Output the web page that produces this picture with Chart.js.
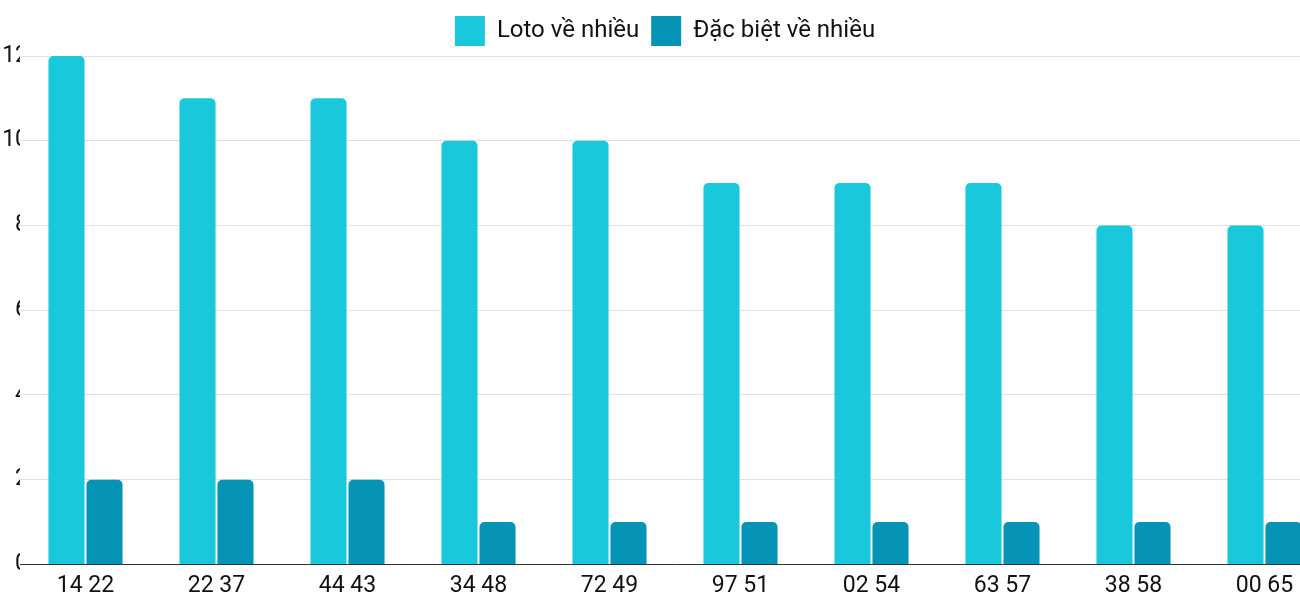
<!DOCTYPE html>
<html><head><meta charset="utf-8">
<script src="https://cdn.jsdelivr.net/npm/chart.js@4"></script>
<style>html,body{margin:0;padding:0;background:#fff;overflow:hidden}#w{width:1330px;height:600px}</style>
</head><body><div id="w"><canvas id="c"></canvas></div>
<script>
const categories = ["14 22","22 37","44 43","34 48","72 49","97 51","02 54","63 57","38 58","00 65"];
const lotoValues = [12,11,11,10,10,9,9,9,8,8];
const dbValues = [2,2,2,1,1,1,1,1,1,1];
const yTicks = [0,2,4,6,8,10,12];
new Chart(document.getElementById('c'), {
  type: 'bar',
  data: { labels: categories, datasets: [
    { label: 'Loto về nhiều', data: lotoValues, backgroundColor: '#1ac8db', borderRadius: {topLeft:5,topRight:5}, borderSkipped: 'bottom' },
    { label: 'Đặc biệt về nhiều', data: dbValues, backgroundColor: '#0593b6', borderRadius: {topLeft:5,topRight:5}, borderSkipped: 'bottom' }
  ]},
  options: {
    responsive: true, maintainAspectRatio: false, animation: false,
    layout: { padding: { top: 4, right: 0, left: 0, bottom: 0 } },
    datasets: { bar: { barPercentage: 0.95, categoryPercentage: 0.58 } },
    plugins: {
      legend: { labels: { font: { family: 'Roboto', size: 24 }, color: '#111', boxWidth: 30, boxHeight: 30, padding: 12 } },
      tooltip: { enabled: false }
    },
    scales: {
      x: { grid: { display: false }, border: { color: '#333' },
           ticks: { font: { family: 'Roboto', size: 23 }, color: '#111', padding: 0 } },
      y: { min: 0, max: 12, afterBuildTicks: a => { a.ticks = yTicks.map(v => ({value: v})); },
           afterFit: a => { a.width = 20; },
           grid: { color: '#e0e0e0', drawTicks: false }, border: { display: false },
           ticks: { font: { family: 'Roboto', size: 23 }, color: '#111', padding: -8 } }
    }
  }
});
</script></body></html>
